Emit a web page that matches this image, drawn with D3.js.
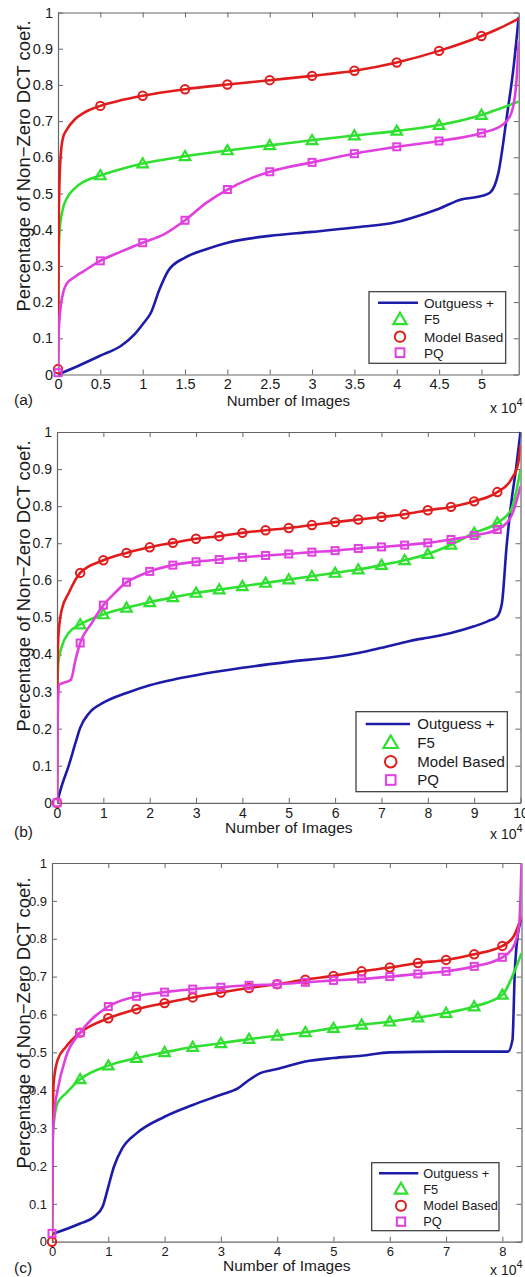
<!DOCTYPE html>
<html>
<head>
<meta charset="utf-8">
<script src="https://cdn.jsdelivr.net/npm/d3@7"></script>
<style>
  html, body { margin: 0; padding: 0; background: #fff; }
  svg { display: block; font-family: "Liberation Sans", Arial, Helvetica, sans-serif; }
</style>
</head>
<body>
<svg id="fig" width="525" height="1277"></svg>
<script>
// ---- data: x in units of 10^4 images, y = fraction of non-zero DCT coefficients ----
const seriesNames = ["Outguess +", "F5", "Model Based", "PQ"];
const yTicks = [0, 0.1, 0.2, 0.3, 0.4, 0.5, 0.6, 0.7, 0.8, 0.9, 1];

// (a)
const xTicksA = [0, 0.5, 1, 1.5, 2, 2.5, 3, 3.5, 4, 4.5, 5];
const xMaxA = 5.44;
const outguessA = [[0,0],[0.25,0.025],[0.5,0.052],[0.75,0.08],[0.9,0.11],[1,0.139],[1.1,0.172],[1.2,0.236],[1.3,0.286],[1.5,0.323],[1.75,0.346],[2,0.364],[2.5,0.383],[3,0.394],[3.5,0.406],[4,0.421],[4.25,0.438],[4.5,0.458],[4.75,0.483],[5,0.493],[5.1,0.502],[5.2,0.557],[5.3,0.713],[5.38,0.85],[5.44,0.988]];
const f5A = [[0,0],[0.005,0.3],[0.02,0.4],[0.06,0.46],[0.1,0.485],[0.2,0.515],[0.3,0.532],[0.5,0.550],[0.75,0.568],[1,0.583],[1.5,0.603],[2,0.619],[2.5,0.633],[3,0.647],[3.5,0.660],[4,0.673],[4.5,0.689],[5,0.717],[5.2,0.733],[5.44,0.754]];
const modelA = [[0,0.015],[0.01,0.45],[0.03,0.6],[0.06,0.655],[0.1,0.675],[0.2,0.705],[0.3,0.722],[0.5,0.742],[0.75,0.758],[1,0.770],[1.5,0.788],[2,0.801],[2.5,0.813],[3,0.825],[3.5,0.839],[4,0.862],[4.5,0.894],[5,0.935],[5.2,0.955],[5.44,0.983]];
const pqA = [[0,0.005],[0.005,0.1],[0.02,0.16],[0.06,0.225],[0.1,0.25],[0.2,0.27],[0.3,0.285],[0.5,0.314],[0.75,0.34],[1,0.364],[1.25,0.387],[1.5,0.426],[1.75,0.474],[2,0.511],[2.25,0.539],[2.5,0.560],[3,0.586],[3.5,0.610],[4,0.629],[4.5,0.645],[5,0.667],[5.25,0.69],[5.35,0.72],[5.41,0.80],[5.44,0.92]];

// (b)
const xTicksB = [0, 1, 2, 3, 4, 5, 6, 7, 8, 9, 10];
const xMaxB = 10;
const outguessB = [[0,0],[0.1,0.045],[0.25,0.099],[0.4,0.162],[0.5,0.202],[0.7,0.243],[1,0.270],[1.5,0.296],[2,0.317],[2.5,0.332],[3,0.344],[4,0.364],[5,0.380],[6,0.394],[6.5,0.404],[7,0.418],[7.5,0.433],[7.75,0.440],[8,0.445],[8.5,0.458],[9,0.476],[9.3,0.490],[9.5,0.503],[9.6,0.539],[9.7,0.692],[9.8,0.809],[9.9,0.898],[10,1.0]];
const f5B = [[0,0],[0.01,0.3],[0.03,0.38],[0.1,0.42],[0.25,0.458],[0.5,0.481],[1,0.508],[1.5,0.526],[2,0.541],[2.5,0.554],[3,0.566],[3.5,0.575],[4,0.584],[4.5,0.593],[5,0.602],[5.5,0.611],[6,0.620],[6.5,0.629],[7,0.641],[7.5,0.654],[8,0.671],[8.5,0.696],[9,0.728],[9.5,0.755],[9.8,0.791],[10,0.898]];
const modelB = [[0,0],[0.01,0.35],[0.03,0.45],[0.1,0.52],[0.25,0.565],[0.5,0.620],[1,0.654],[1.5,0.674],[2,0.689],[2.5,0.701],[3,0.712],[3.5,0.719],[4,0.728],[4.5,0.735],[5,0.741],[5.5,0.749],[6,0.757],[6.5,0.764],[7,0.771],[7.5,0.778],[8,0.789],[8.5,0.798],[9,0.813],[9.5,0.838],[9.8,0.872],[9.95,0.916],[10,0.966]];
const pqB = [[0,0],[0.01,0.2],[0.05,0.319],[0.2,0.326],[0.3,0.332],[0.4,0.386],[0.5,0.431],[0.75,0.485],[1,0.533],[1.25,0.566],[1.5,0.595],[1.75,0.611],[2,0.624],[2.5,0.641],[3,0.650],[3.5,0.656],[4,0.662],[4.5,0.667],[5,0.671],[5.5,0.676],[6,0.680],[6.5,0.686],[7,0.690],[7.5,0.695],[8,0.701],[8.5,0.710],[9,0.721],[9.5,0.737],[9.8,0.773],[10,0.854]];

// (c)
const xTicksC = [0, 1, 2, 3, 4, 5, 6, 7, 8];
const xMaxC = 8.34;
const outguessC = [[0,0.02],[0.5,0.048],[0.75,0.066],[0.9,0.093],[1,0.145],[1.1,0.198],[1.25,0.247],[1.5,0.286],[2,0.330],[2.5,0.361],[3,0.388],[3.3,0.405],[3.5,0.427],[3.7,0.445],[4,0.456],[4.5,0.476],[5,0.485],[5.5,0.491],[6,0.500],[7,0.502],[8,0.502],[8.1,0.502],[8.18,0.533],[8.22,0.709],[8.27,0.806],[8.34,0.85]];
const f5C = [[0,0],[0.01,0.25],[0.03,0.31],[0.1,0.366],[0.25,0.392],[0.5,0.429],[1,0.465],[1.5,0.485],[2,0.500],[2.5,0.514],[3,0.524],[3.5,0.535],[4,0.544],[4.5,0.553],[5,0.564],[5.5,0.573],[6,0.581],[6.5,0.592],[7,0.604],[7.5,0.621],[8,0.652],[8.2,0.709],[8.34,0.762]];
const modelC = [[0,0],[0.01,0.3],[0.03,0.42],[0.1,0.48],[0.25,0.515],[0.5,0.552],[1,0.590],[1.5,0.614],[2,0.630],[2.5,0.645],[3,0.658],[3.5,0.670],[4,0.680],[4.5,0.692],[5,0.702],[5.5,0.714],[6,0.724],[6.5,0.736],[7,0.744],[7.5,0.759],[8,0.781],[8.2,0.806],[8.34,0.859]];
const pqC = [[0,0.022],[0.01,0.25],[0.04,0.34],[0.1,0.40],[0.25,0.489],[0.5,0.552],[1,0.621],[1.5,0.648],[2,0.659],[2.5,0.667],[3,0.672],[3.5,0.677],[4,0.680],[4.5,0.685],[5,0.690],[5.5,0.694],[6,0.700],[6.5,0.707],[7,0.714],[7.5,0.727],[8,0.751],[8.2,0.78],[8.3,0.84],[8.34,1.0]];

// ---- styling ----
const styles = [
  { color: "#1c1ca8", marker: null },        // Outguess +
  { color: "#30e030", marker: "triangle" },  // F5
  { color: "#e01c1c", marker: "circle" },    // Model Based
  { color: "#e040e0", marker: "square" }     // PQ
];

const panels = [
  { tag: "(a)", xTicks: xTicksA, xMax: xMaxA, data: [outguessA, f5A, modelA, pqA],
    box: { l: 58, r: 518.7, t: 12.5, b: 374.5 }, tickSize: 14.5, tickPad: 4,
    ylab: { x: 24, y: 166, size: 18.5 },
    xlab: { y: 406, size: 15 }, tagPos: { x: 14, y: 405 }, exp: { x: 490, y: 413 },
    legend: { l: 369, r: 505.7, t: 291.7, b: 363.3, rows: [302.7, 319.3, 336.7, 352.7],
              lx0: 378, lx1: 418, mx: 400, tx: 424, size: 13.6, ms: 1 } },
  { tag: "(b)", xTicks: xTicksB, xMax: xMaxB, data: [outguessB, f5B, modelB, pqB],
    box: { l: 57, r: 520.5, t: 432, b: 802.8 }, tickSize: 14, tickPad: 5,
    ylab: { x: 24, y: 586, size: 18.5 },
    xlab: { y: 833, size: 15.5 }, tagPos: { x: 14, y: 837 }, exp: { x: 490, y: 839 },
    legend: { l: 356, r: 507.3, t: 711.7, b: 791.7, rows: [724, 742.7, 761.7, 780],
              lx0: 365.7, lx1: 410, mx: 390.7, tx: 417.3, size: 15, ms: 1.1 } },
  { tag: "(c)", xTicks: xTicksC, xMax: xMaxC, data: [outguessC, f5C, modelC, pqC],
    box: { l: 52, r: 521.5, t: 863, b: 1241.7 }, tickSize: 13, tickPad: 5,
    ylab: { x: 24, y: 1023, size: 18.5 },
    xlab: { y: 1271, size: 15.5 }, tagPos: { x: 14, y: 1273 }, exp: { x: 490, y: 1275 },
    legend: { l: 371.7, r: 499, t: 1162.7, b: 1230.7, rows: [1173.3, 1189, 1205.7, 1221.7],
              lx0: 379, lx1: 418.3, mx: 401, tx: 423.3, size: 12.8, ms: 0.95 } }
];

const svg = d3.select("#fig");
const axisColor = "#666";
const textColor = "#1a1a1a";

function drawMarker(g, kind, cx, cy, color, scale) {
  const s = scale || 1;
  if (kind === "circle") {
    g.append("circle").attr("cx", cx).attr("cy", cy).attr("r", 4.2 * s)
      .attr("fill", "none").attr("stroke", color).attr("stroke-width", 2);
  } else if (kind === "triangle") {
    g.append("path").attr("transform", `translate(${cx},${cy + 0.8 * s})`)
      .attr("d", d3.symbol(d3.symbolTriangle, 48 * s * s)())
      .attr("fill", "none").attr("stroke", color).attr("stroke-width", 2.2);
  } else if (kind === "square") {
    const h = 3.5 * s;
    g.append("rect").attr("x", cx - h).attr("y", cy - h).attr("width", 2 * h).attr("height", 2 * h)
      .attr("fill", "none").attr("stroke", color).attr("stroke-width", 2);
  }
}

panels.forEach((p, pi) => {
  const x = d3.scaleLinear().domain([0, p.xMax]).range([p.box.l, p.box.r]);
  const y = d3.scaleLinear().domain([0, 1]).range([p.box.b, p.box.t]);
  const g = svg.append("g");

  const clipId = "clip" + pi;
  g.append("clipPath").attr("id", clipId).append("rect")
    .attr("x", p.box.l).attr("y", p.box.t - 1)
    .attr("width", p.box.r - p.box.l).attr("height", p.box.b - p.box.t + 2);

  // axes: ticks point inward on all four sides
  const fmt = d3.format("");
  const bottom = g.append("g").attr("transform", `translate(0,${p.box.b})`)
    .call(d3.axisBottom(x).tickValues(p.xTicks).tickFormat(fmt).tickSizeInner(-5).tickSizeOuter(0).tickPadding(p.tickPad));
  const top = g.append("g").attr("transform", `translate(0,${p.box.t})`)
    .call(d3.axisTop(x).tickValues(p.xTicks).tickFormat("").tickSizeInner(-5).tickSizeOuter(0));
  const left = g.append("g").attr("transform", `translate(${p.box.l},0)`)
    .call(d3.axisLeft(y).tickValues(yTicks).tickFormat(fmt).tickSizeInner(-5).tickSizeOuter(0).tickPadding(5));
  const right = g.append("g").attr("transform", `translate(${p.box.r},0)`)
    .call(d3.axisRight(y).tickValues(yTicks).tickFormat("").tickSizeInner(-5).tickSizeOuter(0));
  [bottom, top, left, right].forEach(a => {
    a.selectAll("path.domain").attr("stroke", axisColor).attr("stroke-width", 1.2);
    a.selectAll(".tick line").attr("stroke", axisColor).attr("stroke-width", 1);
    a.selectAll("text").attr("fill", textColor).style("font-size", p.tickSize + "px")
      .style("font-family", '"Liberation Sans", Arial, sans-serif');
  });

  // series: lines, then markers every 0.5 x 10^4 images (none on the closing point)
  const line = d3.line().x(d => x(d[0])).y(d => y(d[1])).curve(d3.curveMonotoneX);
  p.data.forEach((ser, si) => {
    const st = styles[si];
    g.append("path").datum(ser).attr("d", line)
      .attr("clip-path", `url(#${clipId})`)
      .attr("fill", "none").attr("stroke", st.color).attr("stroke-width", 2.6)
      .attr("stroke-linejoin", "round");
    if (st.marker) {
      const mg = g.append("g");
      ser.filter((d, i) => i < ser.length - 1
          && Math.abs(d[0] * 2 - Math.round(d[0] * 2)) < 1e-9
          && !(st.marker === "triangle" && d[0] === 0))
        .forEach(d => drawMarker(mg, st.marker, x(d[0]), y(d[1]), st.color, 1));
    }
  });

  // legend
  const L = p.legend;
  const lg = g.append("g");
  lg.append("rect").attr("x", L.l).attr("y", L.t).attr("width", L.r - L.l).attr("height", L.b - L.t)
    .attr("fill", "#fff").attr("stroke", "#333").attr("stroke-width", 1.2);
  seriesNames.forEach((name, si) => {
    const st = styles[si];
    const cy = L.rows[si];
    if (!st.marker) {
      lg.append("line").attr("x1", L.lx0).attr("x2", L.lx1).attr("y1", cy).attr("y2", cy)
        .attr("stroke", st.color).attr("stroke-width", 2.6);
    } else {
      drawMarker(lg, st.marker, L.mx, cy, st.color, L.ms * 1.25);
    }
    lg.append("text").attr("x", L.tx).attr("y", cy).attr("dy", "0.36em")
      .attr("fill", textColor).style("font-size", L.size + "px").text(name);
  });

  // labels
  g.append("text").attr("transform", `translate(${p.ylab.x},${p.ylab.y}) rotate(-90)`)
    .attr("text-anchor", "middle").attr("dy", "0.35em")
    .attr("fill", textColor).style("font-size", p.ylab.size + "px")
    .text("Percentage of Non\u2212Zero DCT coef.");
  g.append("text").attr("x", (p.box.l + p.box.r) / 2 + 0).attr("y", p.xlab.y)
    .attr("text-anchor", "middle").attr("fill", textColor).style("font-size", p.xlab.size + "px")
    .text("Number of Images");
  g.append("text").attr("x", p.tagPos.x).attr("y", p.tagPos.y)
    .attr("fill", textColor).style("font-size", "15.5px").text(p.tag);
  const ex = g.append("text").attr("x", p.exp.x).attr("y", p.exp.y)
    .attr("fill", textColor).style("font-size", "14px");
  ex.append("tspan").text("x 10");
  ex.append("tspan").attr("dy", "-0.6em").style("font-size", "11px").text("4");
});
</script>
</body>
</html>
